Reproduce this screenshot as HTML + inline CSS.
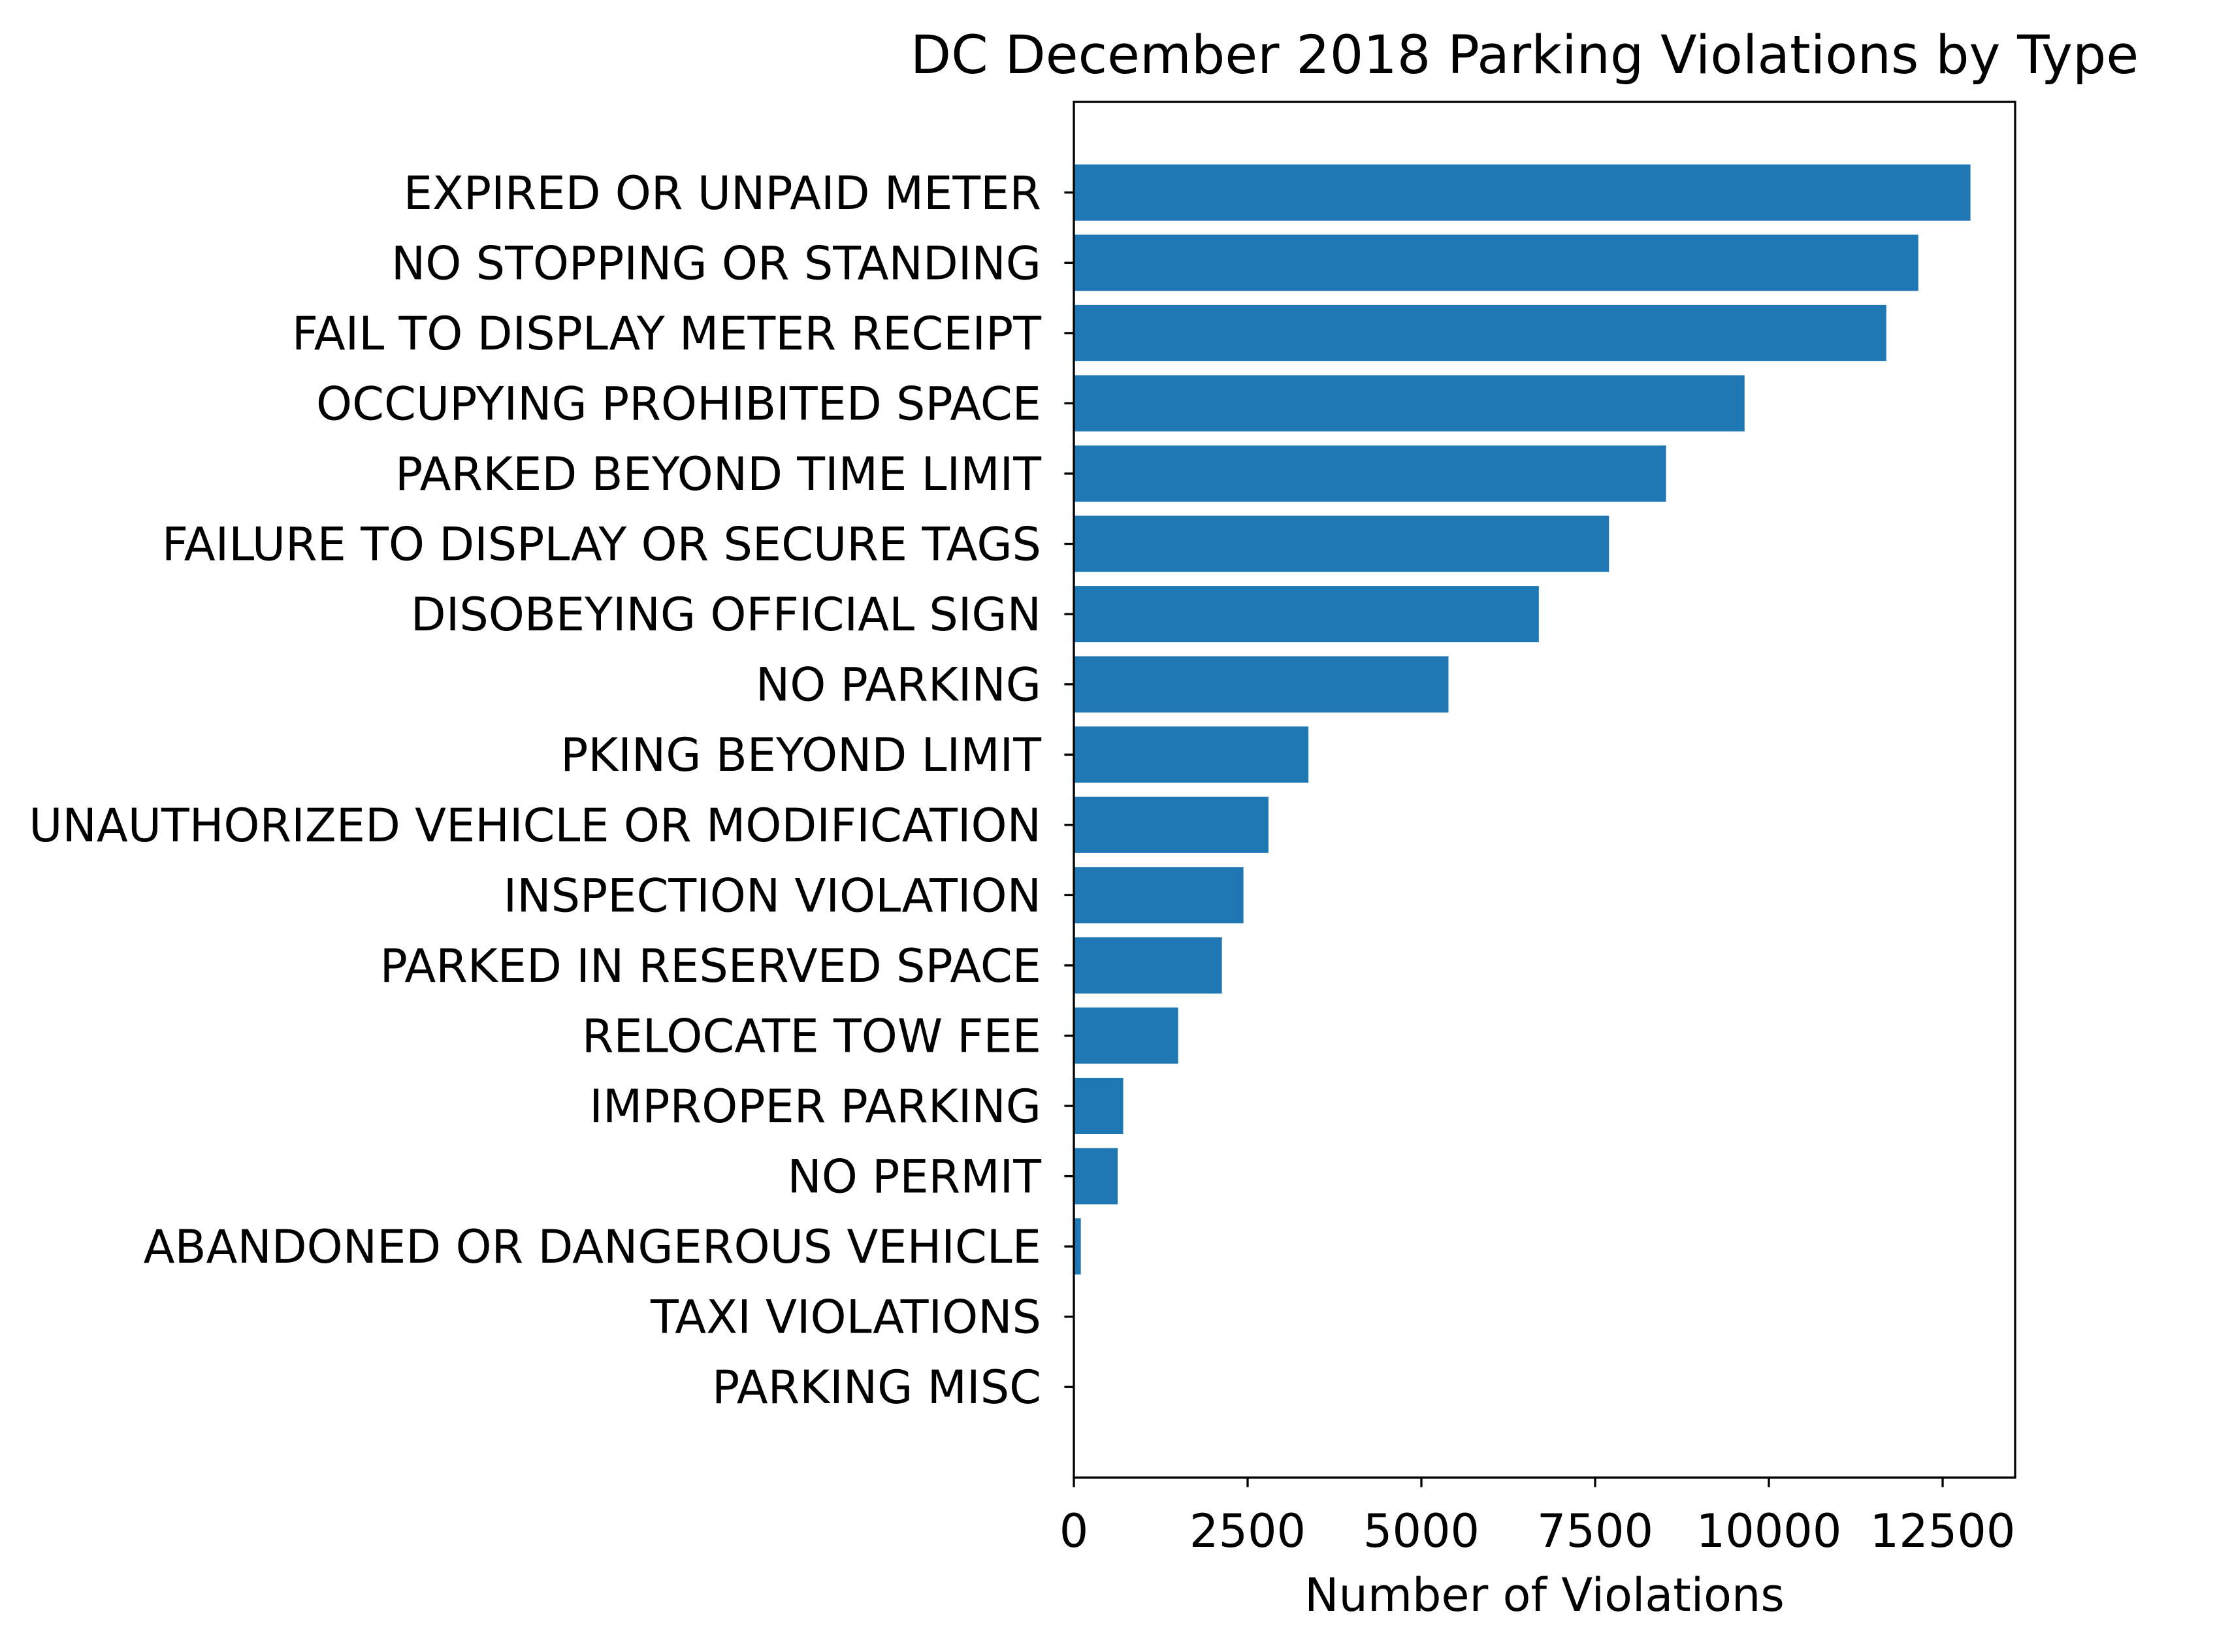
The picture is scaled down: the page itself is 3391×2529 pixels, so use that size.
<!DOCTYPE html>
<html><head><meta charset="utf-8"><style>body{margin:0;background:#fff}svg{display:block}</style></head>
<body>
<svg id="chart" width="3391" height="2529" xmlns="http://www.w3.org/2000/svg" font-family="DejaVu Sans, Liberation Sans, sans-serif"></svg>
<script>
const categories = ["EXPIRED OR UNPAID METER","NO STOPPING OR STANDING","FAIL TO DISPLAY METER RECEIPT","OCCUPYING PROHIBITED SPACE","PARKED BEYOND TIME LIMIT","FAILURE TO DISPLAY OR SECURE TAGS","DISOBEYING OFFICIAL SIGN","NO PARKING","PKING BEYOND LIMIT","UNAUTHORIZED VEHICLE OR MODIFICATION","INSPECTION VIOLATION","PARKED IN RESERVED SPACE","RELOCATE TOW FEE","IMPROPER PARKING","NO PERMIT","ABANDONED OR DANGEROUS VEHICLE","TAXI VIOLATIONS","PARKING MISC"];
const values = [12900,12150,11690,9650,8520,7700,6690,5390,3375,2800,2440,2130,1500,710,630,100,0,5];
const xTicks = [0,2500,5000,7500,10000,12500];
const xTickLabels = ["0","2500","5000","7500","10000","12500"];

const svg = document.getElementById('chart');
const NS = 'http://www.w3.org/2000/svg';
const L = 1644, R = 3085, T = 156, B = 2262;
const xMax = 13543;
const n = categories.length;
const yMin = -1.29, yMax = n - 1 + 1.29;
const x = v => L + (v / xMax) * (R - L);
const y = i => T + (i - yMin) / (yMax - yMin) * (B - T);
const step = y(1) - y(0);
function mk(tag, attrs) { const e = document.createElementNS(NS, tag); for (const k in attrs) e.setAttribute(k, attrs[k]); svg.appendChild(e); return e; }

categories.forEach((c, i) => {
  const r = mk('rect', {x: x(0), y: y(i) - step * 0.4, width: x(values[i]) - x(0), height: step * 0.8, fill: '#1f77b4'});
  
  
  const t = mk('line', {x1: L - 14.6, x2: L, y1: y(i), y2: y(i), stroke: '#000', 'stroke-width': 3.3});
  
  
  const lb = mk('text', {x: 1594, y: y(i) + 25, 'text-anchor': 'end', 'font-size': 70, fill: '#000'});
  lb.textContent = c;
  
  
});

xTicks.forEach((v, i) => {
  const t = mk('line', {x1: x(v), x2: x(v), y1: B, y2: B + 14.6, stroke: '#000', 'stroke-width': 3.3});
  
  
  const lb = mk('text', {x: x(v), y: 2368, 'text-anchor': 'middle', 'font-size': 70, fill: '#000'});
  lb.textContent = xTickLabels[i];
  
  
});

const frame = mk('rect', {x: L, y: T, width: R - L, height: B - T, fill: 'none', stroke: '#000', 'stroke-width': 3.3});



const title = mk('text', {x: 2334, y: 112, 'text-anchor': 'middle', 'font-size': 81, fill: '#000'});
title.textContent = 'DC December 2018 Parking Violations by Type';



const xl = mk('text', {x: (L + R) / 2, y: 2466, 'text-anchor': 'middle', 'font-size': 70, fill: '#000'});
xl.textContent = 'Number of Violations';


</script>
</body></html>
